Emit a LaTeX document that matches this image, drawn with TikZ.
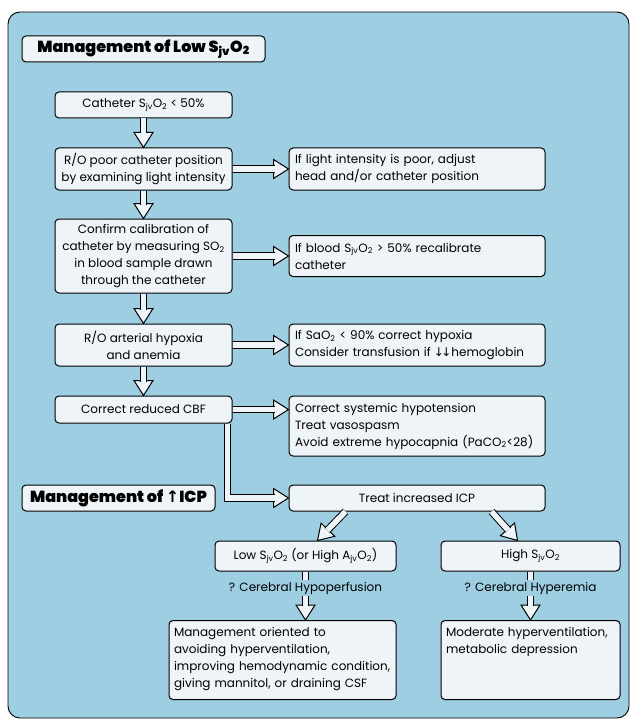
\documentclass[tikz,border=0pt]{standalone}
\usepackage{fontspec}
\setmainfont{Poppins}
\newfontfamily\titlefont{Poppins Black}
\newfontfamily\arrowfont{DejaVu Sans}
\usetikzlibrary{calc}

\definecolor{panel}{RGB}{157,206,226}
\definecolor{boxfill}{RGB}{238,244,248}

\newcommand{\bodysize}{\fontsize{12}{17}\selectfont}
\newcommand{\SjvO}{S\textsubscript{jv}O\textsubscript{2}}

% open arrow head, tip at #2, pointing away from #1
\newcommand{\hollowhead}[2]{%
  \coordinate (hb) at ($(#2)!15pt!(#1)$);
  \filldraw[hhead] (#2) -- ($(hb)!9.5pt!90:(#2)$) -- ($(hb)!9.5pt!-90:(#2)$) -- cycle;
}
% double shaft plus open head
\newcommand{\hollowarrow}[2]{%
  \hollowhead{#1}{#2}
  \draw[hshaft] (#1) -- ($(hb)!1pt!(#2)$);
}

\tikzset{
  box/.style={draw, fill=boxfill, rounded corners=4pt, line width=1pt, inner sep=0pt, font=\bodysize},
  lbox/.style={box, align=center, minimum width=177pt},
  rbox/.style={box, align=left, text width=244pt, minimum width=256pt},
  topbox/.style={box, align=left, anchor=north, inner xsep=5pt, inner ysep=7pt, text height=9pt},
  titlebox/.style={box, font=\titlefont\fontsize{16}{18}\selectfont, minimum height=26pt},
  hshaft/.style={draw=black, line width=1pt, double=boxfill, double distance=5.5pt, line join=miter},
  hhead/.style={fill=boxfill, draw=black, line width=1pt, line join=miter},
}

\begin{document}
\begin{tikzpicture}[x=1pt, y=-1pt]
  \useasboundingbox (0,0) rectangle (631,722);
  \fill[white] (0,0) rectangle (631,722); % page
  \draw[fill=panel, line width=0.9pt, rounded corners=12pt] (8,12) rectangle (629,718); % blue panel

  \node[titlebox, minimum width=243pt] (title1) at (143.5,49) {Management of Low \SjvO}; % heading 1

  \node[lbox, minimum height=26pt] (cath) at (143.5,105) {Catheter \SjvO{} < 50\%}; % start
  \node[lbox, minimum height=42pt] (pos) at (143.5,169) {R/O poor catheter position\\by examining light intensity};
  \node[rbox, minimum height=42pt] (adjust) at (417,169) {If light intensity is poor, adjust\\head and/or catheter position};
  \node[lbox, minimum height=74pt] (calib) at (143.5,256) {Confirm calibration of\\catheter by measuring SO\textsubscript{2}\\in blood sample drawn\\through the catheter};
  \node[rbox, minimum height=41pt] (recal) at (417,256) {If blood \SjvO{} > 50\% recalibrate\\catheter};
  \node[lbox, minimum height=42pt] (hypox) at (143.5,345) {R/O arterial hypoxia\\and anemia};
  \node[rbox, minimum height=42pt] (transf) at (417,345) {If SaO\textsubscript{2} < 90\% correct hypoxia\\Consider transfusion if {\arrowfont\kern-1pt↓\kern-2.5pt↓}hemoglobin};
  \node[lbox, minimum height=27pt] (cbf) at (143.5,409.5) {Correct reduced CBF};
  \node[rbox, minimum height=60pt] (hypot) at (417,426) {Correct systemic hypotension\\Treat vasospasm\\Avoid extreme hypocapnia (PaCO\textsubscript{2}<28)};

  \node[titlebox, minimum width=193pt] (title2) at (118.5,498) {Management of {\arrowfont\bfseries↑}ICP}; % heading 2
  \node[box, minimum width=256pt, minimum height=26pt] (icp) at (417,498) {Treat increased ICP};

  \node[box, minimum width=181pt, minimum height=30pt] (lowsjv) at (305.5,556) {Low \SjvO{} (or High A\textsubscript{jv}O\textsubscript{2})};
  \node[box, minimum width=179pt, minimum height=30pt] (highsjv) at (530.5,556) {High \SjvO};
  \node[font=\bodysize, inner sep=2pt] (hypo) at (305.5,588) {? Cerebral Hypoperfusion};
  \node[font=\bodysize, inner sep=2pt] (hyper) at (530.5,588) {? Cerebral Hyperemia};
  \node[topbox, text width=217pt, text depth=56pt] (mgmt) at (282.5,620) {Management oriented to\\avoiding hyperventilation,\\improving hemodynamic condition,\\giving mannitol, or draining CSF};
  \node[topbox, text width=169pt, text depth=56pt] (moder) at (530.5,620) {Moderate hyperventilation,\\metabolic depression};

  % main column
  \hollowarrow{cath.south}{pos.north}
  \hollowarrow{pos.south}{calib.north}
  \hollowarrow{calib.south}{hypox.north}
  \hollowarrow{hypox.south}{cbf.north}

  % to the right
  \hollowarrow{pos.east}{adjust.west}
  \hollowarrow{calib.east}{recal.west}
  \hollowarrow{hypox.east}{transf.west}
  \coordinate (hypin) at (cbf.east -| hypot.west);
  \hollowarrow{cbf.east}{hypin}

  % elbow down to ICP
  \coordinate (cbfout) at ($(cbf.south east)+(-5,0)$);
  \coordinate (icpbend) at (cbfout |- icp.west);
  \hollowhead{icpbend}{icp.west}
  \draw[hshaft] (cbfout) -- (icpbend) -- ($(hb)!1pt!(icp.west)$);

  % split
  \coordinate (icpl) at ($(icp.south west)+(57,0)$);
  \coordinate (lowin) at ($(lowsjv.north west)+(103,0)$);
  \coordinate (icpr) at ($(icp.south west)+(203,0)$);
  \coordinate (highin) at ($(highsjv.north west)+(77,0)$);
  \hollowarrow{icpl}{lowin}
  \hollowarrow{icpr}{highin}

  % down to management
  \draw[hshaft] (lowsjv.south) -- (hypo.north);
  \draw[hshaft] (highsjv.south) -- (hyper.north);
  \coordinate (mgmtin) at (hypo.south |- mgmt.north);
  \coordinate (moderin) at (hyper.south |- moder.north);
  \hollowarrow{hypo.south}{mgmtin}
  \hollowarrow{hyper.south}{moderin}
\end{tikzpicture}
\end{document}
